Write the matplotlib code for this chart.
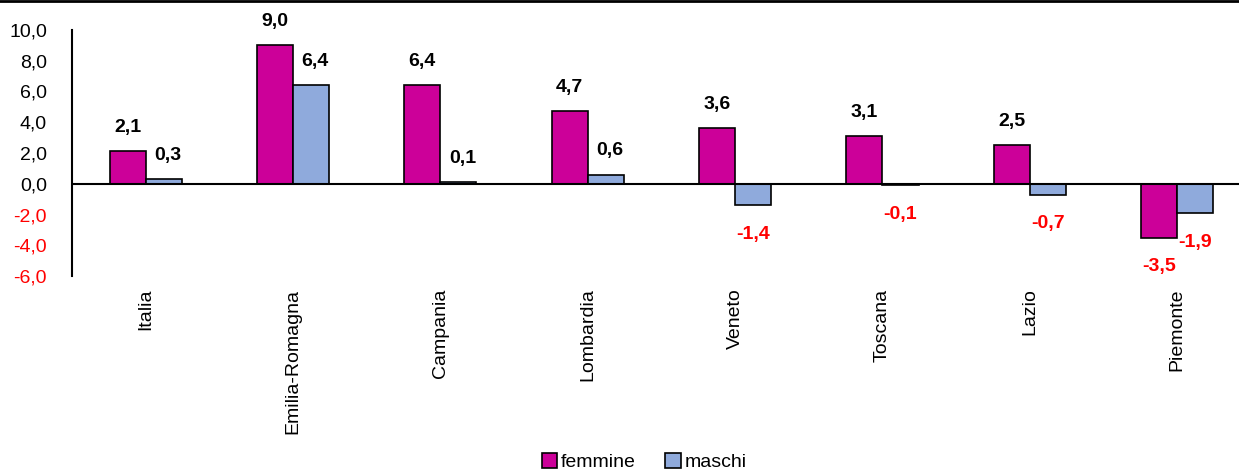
import numpy as np
import matplotlib
matplotlib.use("Agg")
import matplotlib.pyplot as plt

plt.rcParams['font.family'] = ['Liberation Sans', 'DejaVu Sans']

regioni = ['Italia', 'Emilia-Romagna', 'Campania', 'Lombardia', 'Veneto',
           'Toscana', 'Lazio', 'Piemonte']
femmine = [2.1, 9.0, 6.4, 4.7, 3.6, 3.1, 2.5, -3.5]
maschi = [0.3, 6.4, 0.1, 0.6, -1.4, -0.1, -0.7, -1.9]
yticks = [-6, -4, -2, 0, 2, 4, 6, 8, 10]

col_f = '#CC0099'
col_m = '#8FAADC'

fig = plt.figure(figsize=(12.39, 4.75), dpi=100)
ax = fig.add_axes([72 / 1239, 1 - 276 / 475, 1 - 72 / 1239, 246 / 475])

x = np.arange(len(regioni))
w = 0.245
bf = ax.bar(x - w / 2, femmine, w, color=col_f, edgecolor='black', linewidth=1.2, label='femmine')
bm = ax.bar(x + w / 2, maschi, w, color=col_m, edgecolor='black', linewidth=1.2, label='maschi')

ax.set_ylim(-6, 10)
ax.set_xlim(-0.5, 7.42)
ax.axhline(0, color='black', linewidth=1.5, zorder=3)

fs = 14

def etichetta(xi, v, dx):
    testo = f'{v:.1f}'.replace('.', ',')
    if v >= 0:
        ax.annotate(testo, (xi, v), xytext=(dx, 11), textcoords='offset points',
                    ha='center', va='bottom', fontsize=fs, fontweight='bold', color='black')
    else:
        ax.annotate(testo, (xi, v), xytext=(0, -15), textcoords='offset points',
                    ha='center', va='top', fontsize=fs, fontweight='bold', color='red')

for xi, v in zip(x, femmine):
    etichetta(xi - w / 2, v, 0)
for xi, v in zip(x, maschi):
    etichetta(xi + w / 2, v, 3)

ax.set_yticks(yticks)
ax.set_yticklabels([f'{t:.1f}'.replace('.', ',') for t in yticks], fontsize=fs)
for lbl, t in zip(ax.get_yticklabels(), yticks):
    if t < 0:
        lbl.set_color('red')
ax.tick_params(axis='y', length=0, pad=18)

ax.set_xticks(x)
ax.set_xticklabels(regioni, rotation=90, fontsize=fs, va='top')
ax.tick_params(axis='x', length=0, pad=9)

for s in ['top', 'right', 'bottom']:
    ax.spines[s].set_visible(False)
ax.spines['left'].set_linewidth(1.5)

fig.legend(handles=[bf, bm], loc='center', bbox_to_anchor=(0.52, 1 - 462 / 475),
           ncol=2, frameon=False, fontsize=fs, handlelength=0.8, handleheight=0.8,
           handletextpad=0.2, columnspacing=1.5)

# bordo superiore
fig.add_artist(plt.Line2D([0, 1], [0.998, 0.998], color='black', linewidth=2,
                          transform=fig.transFigure))

fig.savefig('out.png', dpi=100)
